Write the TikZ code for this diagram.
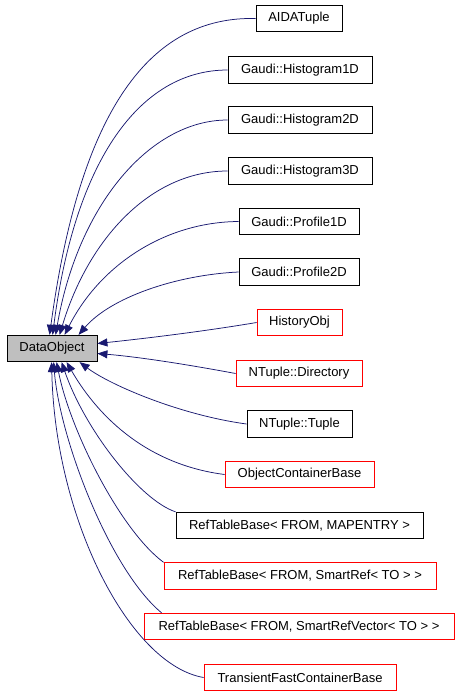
\documentclass[tikz,border=0pt]{standalone}
\usepackage{fontspec}
\setmainfont{Liberation Sans}
\usetikzlibrary{arrows.meta}
\definecolor{edgeblue}{HTML}{191970}
\definecolor{boxred}{HTML}{FF0000}
\definecolor{basegray}{HTML}{BFBFBF}
\begin{document}
\begin{tikzpicture}[x=1pt,y=-1pt,
  cls/.style={draw=black, line width=0.8pt, minimum height=26.5pt, inner sep=0pt, font=\fontsize{13}{15}\selectfont},
  redcls/.style={cls, draw=boxred},
  basecls/.style={cls, fill=basegray},
  inh/.style={draw=edgeblue, line width=0.75pt, -{Triangle[length=10pt,width=8pt]}}]
\useasboundingbox (0,0) rectangle (458,696);
\node[basecls, minimum width=90pt] (do) at (52,348.5) {DataObject};
\node[cls, minimum width=86pt] (aida) at (299,18.5) {AIDATuple};
\node[cls, minimum width=144pt] (h1) at (300,70) {Gaudi::Histogram1D};
\node[cls, minimum width=144pt] (h2) at (300,120) {Gaudi::Histogram2D};
\node[cls, minimum width=144pt] (h3) at (300,171) {Gaudi::Histogram3D};
\node[cls, minimum width=120pt] (p1) at (299,221.5) {Gaudi::Profile1D};
\node[cls, minimum width=120pt] (p2) at (299,272) {Gaudi::Profile2D};
\node[redcls, minimum width=85pt] (hist) at (299.5,322.5) {HistoryObj};
\node[redcls, minimum width=126pt] (dir) at (299,373.5) {NTuple::Directory};
\node[cls, minimum width=105pt] (tuple) at (299.5,424) {NTuple::Tuple};
\node[redcls, minimum width=149pt] (ocb) at (299.5,474.5) {ObjectContainerBase};
\node[cls, minimum width=247pt] (rmap) at (299.5,525.5) {RefTableBase< FROM, MAPENTRY >};
\node[redcls, minimum width=272pt] (rsr) at (300,576) {RefTableBase< FROM, SmartRef< TO > >};
\node[redcls, minimum width=310pt] (rsrv) at (299,626.5) {RefTableBase< FROM, SmartRefVector< TO > >};
\node[redcls, minimum width=192pt] (tfcb) at (300,677.5) {TransientFastContainerBase};
\draw[inh] (aida.west) .. controls (150,16) and (80,110) .. ([xshift=43pt]do.north west);
\draw[inh] (h1.west) .. controls (140,70) and (75,160) .. ([xshift=46pt]do.north west);
\draw[inh] (h2.west) .. controls (150,120) and (78,205) .. ([xshift=49pt]do.north west);
\draw[inh] (h3.west) .. controls (150,171) and (88,240) .. ([xshift=53pt]do.north west);
\draw[inh] (p1.west) .. controls (165,222) and (100,265) .. ([xshift=58pt]do.north west);
\draw[inh] (p2.west) .. controls (175,275) and (110,298) .. ([xshift=72pt]do.north west);
\draw[inh] (hist.west) .. controls (200,332) and (140,339) .. ([yshift=5pt]do.east);
\draw[inh] (dir.west) .. controls (190,365) and (140,357) .. ([yshift=-5pt]do.east);
\draw[inh] (tuple.west) .. controls (180,415) and (110,385) .. ([xshift=73pt]do.south west);
\draw[inh] (ocb.west) .. controls (150,465) and (100,420) .. ([xshift=60pt]do.south west);
\draw[inh] (rmap.north west) .. controls (140,500) and (85,430) .. ([xshift=55pt]do.south west);
\draw[inh] (rsr.north west) .. controls (120,530) and (70,430) .. ([xshift=50pt]do.south west);
\draw[inh] ([xshift=18pt]rsrv.north west) .. controls (110,570) and (60,440) .. ([xshift=47pt]do.south west);
\draw[inh] (tfcb.west) .. controls (130,665) and (55,520) .. ([xshift=45pt]do.south west);
\end{tikzpicture}
\end{document}
